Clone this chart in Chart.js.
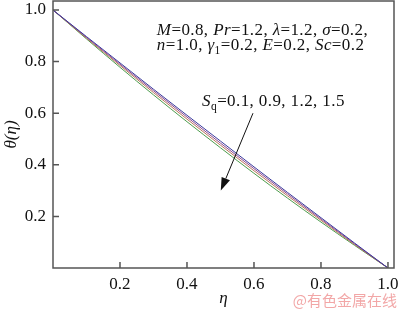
<!DOCTYPE html>
<html>
<head>
<meta charset="utf-8">
<script src="https://cdn.jsdelivr.net/npm/chart.js@4"></script>
<style>
  html, body { margin: 0; padding: 0; background: #fff; }
  #wrap { width: 400px; height: 309px; }
</style>
</head>
<body>
<div id="wrap"><canvas id="chart" width="400" height="309"></canvas></div>
<script>
// eta grid and theta profiles
const etaValues = [0, 0.1, 0.2, 0.3, 0.4, 0.5, 0.6, 0.7, 0.8, 0.9, 1.0];
const thetaSq01 = [1.0, 0.897, 0.795, 0.693, 0.592, 0.492, 0.392, 0.293, 0.195, 0.097, 0.0];
const thetaSq09 = [1.0, 0.894, 0.790, 0.687, 0.585, 0.484, 0.385, 0.287, 0.190, 0.094, 0.0];
const thetaSq12 = [1.0, 0.891, 0.785, 0.680, 0.577, 0.476, 0.377, 0.280, 0.185, 0.091, 0.0];
const thetaSq15 = [1.0, 0.888, 0.778, 0.671, 0.567, 0.466, 0.367, 0.271, 0.178, 0.088, 0.0];
const seriesNames = ['Sq=0.1', 'Sq=0.9', 'Sq=1.2', 'Sq=1.5'];
const seriesColors = ['#3a3a9c', '#8e4a90', '#b8785a', '#4c9c4c'];
const xTickValues = [0.2, 0.4, 0.6, 0.8, 1.0];
const yTickValues = [0.2, 0.4, 0.6, 0.8, 1.0];

const serif = '"Liberation Serif", serif';

function toPoints(ys) {
    return etaValues.map((x, i) => ({ x: x, y: ys[i] }));
}

// draws a line of text made of plain / italic / subscript pieces
function drawRich(ctx, x, y, parts, size) {
    parts.forEach(p => {
        const s = p.sub ? size * 0.68 : size;
        ctx.font = (p.i ? 'italic ' : '') + s + 'px ' + serif;
        ctx.fillText(p.t, x, y + (p.sub ? size * 0.22 : 0));
        x += ctx.measureText(p.t).width;
    });
}

const decorations = {
    id: 'decorations',
    afterDraw(chart) {
        const ctx = chart.ctx;
        const area = chart.chartArea;
        const xs = chart.scales.x;
        const ys = chart.scales.y;
        ctx.save();

        // frame and inward ticks
        ctx.strokeStyle = '#555';
        ctx.lineWidth = 1.5;
        ctx.strokeRect(area.left, area.top, area.right - area.left, area.bottom - area.top);
        ctx.beginPath();
        xTickValues.forEach(v => {
            const px = xs.getPixelForValue(v);
            ctx.moveTo(px, area.bottom);
            ctx.lineTo(px, area.bottom - 6);
        });
        yTickValues.forEach(v => {
            const py = ys.getPixelForValue(v);
            ctx.moveTo(area.left, py);
            ctx.lineTo(area.left + 6, py);
        });
        ctx.stroke();

        // parameter text
        ctx.fillStyle = '#111';
        ctx.textBaseline = 'alphabetic';
        ctx.textAlign = 'left';
        ctx.letterSpacing = '0.4px';
        const size = 17;
        drawRich(ctx, xs.getPixelForValue(0.31), ys.getPixelForValue(0.905), [
            { t: 'M', i: true }, { t: '=0.8, ' }, { t: 'Pr', i: true }, { t: '=1.2, ' },
            { t: 'λ', i: true }, { t: '=1.2, ' }, { t: 'σ', i: true }, { t: '=0.2,' }
        ], size);
        drawRich(ctx, xs.getPixelForValue(0.31), ys.getPixelForValue(0.845), [
            { t: 'n', i: true }, { t: '=1.0, ' }, { t: 'γ', i: true }, { t: '1', sub: true },
            { t: '=0.2, ' }, { t: 'E', i: true }, { t: '=0.2, ' }, { t: 'Sc', i: true }, { t: '=0.2' }
        ], size);
        drawRich(ctx, xs.getPixelForValue(0.445), ys.getPixelForValue(0.628), [
            { t: 'S', i: true }, { t: 'q', sub: true }, { t: '=0.1, 0.9, 1.2, 1.5' }
        ], size);
        ctx.letterSpacing = '0px';

        // arrow showing increasing Sq
        const ax0 = xs.getPixelForValue(0.597), ay0 = ys.getPixelForValue(0.60);
        const ax1 = xs.getPixelForValue(0.501), ay1 = ys.getPixelForValue(0.30);
        const ang = Math.atan2(ay1 - ay0, ax1 - ax0);
        const headLen = 13, headW = 4.5;
        const bx = ax1 - headLen * Math.cos(ang), by = ay1 - headLen * Math.sin(ang);
        ctx.strokeStyle = '#111';
        ctx.lineWidth = 1;
        ctx.beginPath();
        ctx.moveTo(ax0, ay0);
        ctx.lineTo(bx, by);
        ctx.stroke();
        ctx.fillStyle = '#111';
        ctx.beginPath();
        ctx.moveTo(ax1, ay1);
        ctx.lineTo(bx + headW * Math.sin(ang), by - headW * Math.cos(ang));
        ctx.lineTo(bx - headW * Math.sin(ang), by + headW * Math.cos(ang));
        ctx.closePath();
        ctx.fill();

        // watermark
        ctx.font = '15px "Noto Sans CJK SC", sans-serif';
        ctx.fillStyle = 'rgba(236, 130, 130, 0.7)';
        ctx.textAlign = 'right';
        ctx.fillText('@有色金属在线', chart.width - 3, chart.height - 3);
        ctx.restore();
    }
};

const ctx = document.getElementById('chart').getContext('2d');

new Chart(ctx, {
    type: 'line',
    data: {
        datasets: [thetaSq01, thetaSq09, thetaSq12, thetaSq15].map((ys, i) => ({
            label: seriesNames[i],
            data: toPoints(ys),
            borderColor: seriesColors[i],
            borderWidth: 1,
            pointRadius: 0,
            fill: false,
            cubicInterpolationMode: 'monotone'
        }))
    },
    options: {
        responsive: false,
        animation: false,
        devicePixelRatio: 1,
        layout: { padding: { top: 1, right: 6, left: 0, bottom: 0 } },
        plugins: {
            legend: { display: false },
            tooltip: { enabled: false }
        },
        scales: {
            x: {
                type: 'linear',
                min: 0,
                max: 1.018,
                grid: { display: false, drawTicks: false },
                border: { display: false },
                afterBuildTicks: s => { s.ticks = xTickValues.map(v => ({ value: v })); },
                afterFit: s => { s.height = 41; s.paddingLeft = 0; s.paddingRight = 0; },
                ticks: {
                    color: '#111',
                    padding: 6,
                    maxRotation: 0,
                    font: { family: serif, size: 17 },
                    callback: v => Number(v).toFixed(1)
                },
                title: {
                    display: true,
                    text: 'η',
                    color: '#111',
                    padding: 0,
                    font: { family: serif, size: 17, style: 'italic' }
                }
            },
            y: {
                type: 'linear',
                min: 0,
                max: 1.035,
                grid: { display: false, drawTicks: false },
                border: { display: false },
                afterBuildTicks: s => { s.ticks = yTickValues.map(v => ({ value: v })); },
                afterFit: s => { s.width = 53; s.paddingTop = 0; s.paddingBottom = 0; },
                ticks: {
                    color: '#111',
                    padding: 7,
                    font: { family: serif, size: 17 },
                    callback: v => Number(v).toFixed(1)
                },
                title: {
                    display: true,
                    text: 'θ(η)',
                    color: '#111',
                    padding: { top: 1, bottom: 0 },
                    font: { family: serif, size: 17, style: 'italic' }
                }
            }
        }
    },
    plugins: [decorations]
});
</script>
</body>
</html>
